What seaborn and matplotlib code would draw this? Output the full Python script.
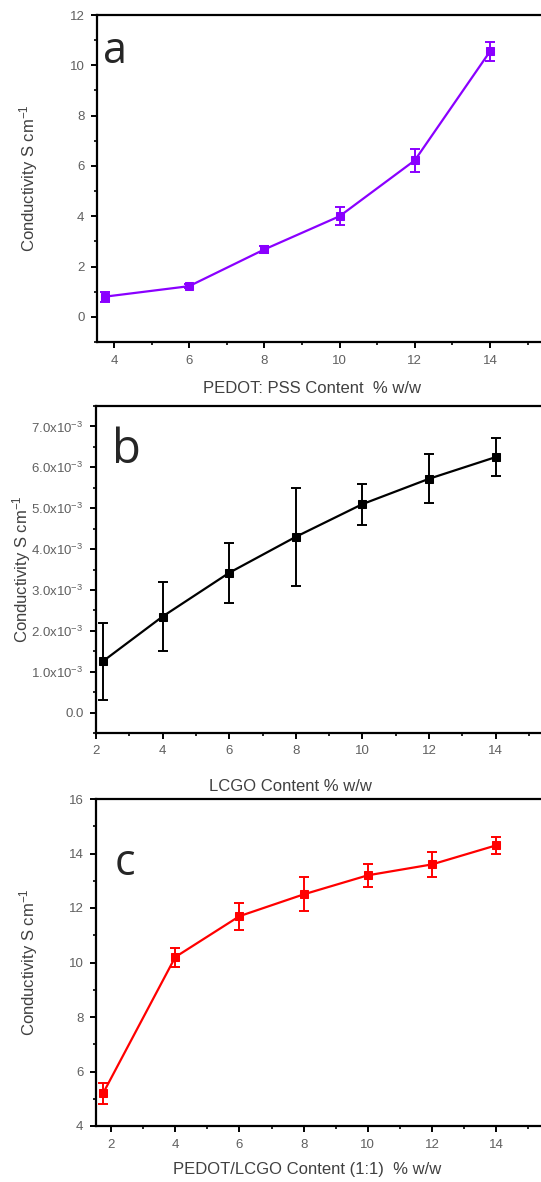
import matplotlib
matplotlib.use("Agg")
import matplotlib.pyplot as plt
from matplotlib.ticker import MultipleLocator, FixedLocator
import seaborn as sns
import pandas as pd

# panel a: PEDOT:PSS
pedot_x = [3.75, 6, 8, 10, 12, 14]
pedot_y = [0.8, 1.22, 2.68, 4.0, 6.22, 10.55]
pedot_err = [0.2, 0.08, 0.15, 0.35, 0.45, 0.38]

# panel b: LCGO
lcgo_x = [2.2, 4, 6, 8, 10, 12, 14]
lcgo_y = [1.25e-3, 2.35e-3, 3.42e-3, 4.3e-3, 5.1e-3, 5.72e-3, 6.25e-3]
lcgo_err = [0.95e-3, 0.85e-3, 0.73e-3, 1.2e-3, 0.5e-3, 0.6e-3, 0.46e-3]

# panel c: PEDOT/LCGO (1:1)
mix_x = [1.75, 4, 6, 8, 10, 12, 14]
mix_y = [5.2, 10.2, 11.7, 12.5, 13.2, 13.6, 14.3]
mix_err = [0.38, 0.35, 0.5, 0.62, 0.42, 0.45, 0.3]

b_ticks = [0, 1e-3, 2e-3, 3e-3, 4e-3, 5e-3, 6e-3, 7e-3]
b_labels = ["0.0"] + [f"{v*1e3:.1f}x10$^{{-3}}$" for v in b_ticks[1:]]

sns.set_style("ticks")
plt.rcParams["font.family"] = ["Liberation Sans", "DejaVu Sans"]
plt.rcParams["mathtext.default"] = "regular"

fig = plt.figure(figsize=(5.41, 11.82), dpi=100)

W, H = 541, 1182


def make_axes(left, top, bottom, width):
    return fig.add_axes([left / W, 1 - bottom / H, width / W, (bottom - top) / H])


def style(ax, xlabel, xlab_pos, ylab_x):
    for s in ax.spines.values():
        s.set_linewidth(1.6)
        s.set_color("black")
    ax.tick_params(which="major", direction="out", length=4, width=1.4, pad=5,
                   labelsize=9.5, labelcolor="#606060", color="black")
    ax.tick_params(which="minor", direction="out", length=2.5, width=1.2, color="black")
    ax.set_xlabel(xlabel, fontsize=12, color="#404040")
    ax.set_ylabel("Conductivity S cm$^{-1}$", fontsize=12, color="#404040")
    ax.xaxis.set_label_coords(*xlab_pos)
    ax.yaxis.set_label_coords(ylab_x, 0.5)


def draw(ax, x, y, err, color):
    df = pd.DataFrame({"x": x, "y": y})
    sns.lineplot(data=df, x="x", y="y", ax=ax, color=color, marker="s",
                 markersize=6, markeredgecolor=color, linewidth=1.6)
    ax.errorbar(x, y, yerr=err, fmt="none", ecolor=color, elinewidth=1.4,
                capsize=3.5, capthick=1.4)


# a
ax1 = make_axes(97, 15, 342, 449)
draw(ax1, pedot_x, pedot_y, pedot_err, "#8A00FF")
ax1.set_xlim(3.55, 15.49)
ax1.set_ylim(-1, 12)
ax1.xaxis.set_major_locator(MultipleLocator(2))
ax1.xaxis.set_minor_locator(MultipleLocator(1))
ax1.yaxis.set_major_locator(MultipleLocator(2))
ax1.yaxis.set_minor_locator(MultipleLocator(1))
style(ax1, "PEDOT: PSS Content  % w/w", (0.479, -0.119), -0.126)
ax1.text(0.013, 0.853, "a", transform=ax1.transAxes, fontsize=31,
         family="Open Sans", va="baseline", ha="left")

# b
ax2 = make_axes(96, 406, 733, 449)
draw(ax2, lcgo_x, lcgo_y, lcgo_err, "black")
ax2.set_xlim(2, 15.48)
ax2.set_ylim(-0.5e-3, 7.5e-3)
ax2.xaxis.set_major_locator(MultipleLocator(2))
ax2.xaxis.set_minor_locator(MultipleLocator(1))
ax2.yaxis.set_major_locator(FixedLocator(b_ticks))
ax2.set_yticklabels(b_labels)
ax2.yaxis.set_minor_locator(MultipleLocator(0.5e-3))
style(ax2, "LCGO Content % w/w", (0.432, -0.141), -0.141)
ax2.text(0.036, 0.826, "b", transform=ax2.transAxes, fontsize=34,
         family="Open Sans", va="baseline", ha="left")

# c
ax3 = make_axes(96, 799, 1126, 449)
draw(ax3, mix_x, mix_y, mix_err, "#FF0000")
ax3.set_xlim(1.53, 15.52)
ax3.set_ylim(4, 16)
ax3.xaxis.set_major_locator(MultipleLocator(2))
ax3.xaxis.set_minor_locator(MultipleLocator(1))
ax3.yaxis.set_major_locator(MultipleLocator(2))
ax3.yaxis.set_minor_locator(MultipleLocator(1))
style(ax3, "PEDOT/LCGO Content (1:1)  % w/w", (0.47, -0.110), -0.124)
ax3.text(0.042, 0.768, "c", transform=ax3.transAxes, fontsize=31,
         family="Open Sans", va="baseline", ha="left")

fig.savefig("out.png", dpi=100)
